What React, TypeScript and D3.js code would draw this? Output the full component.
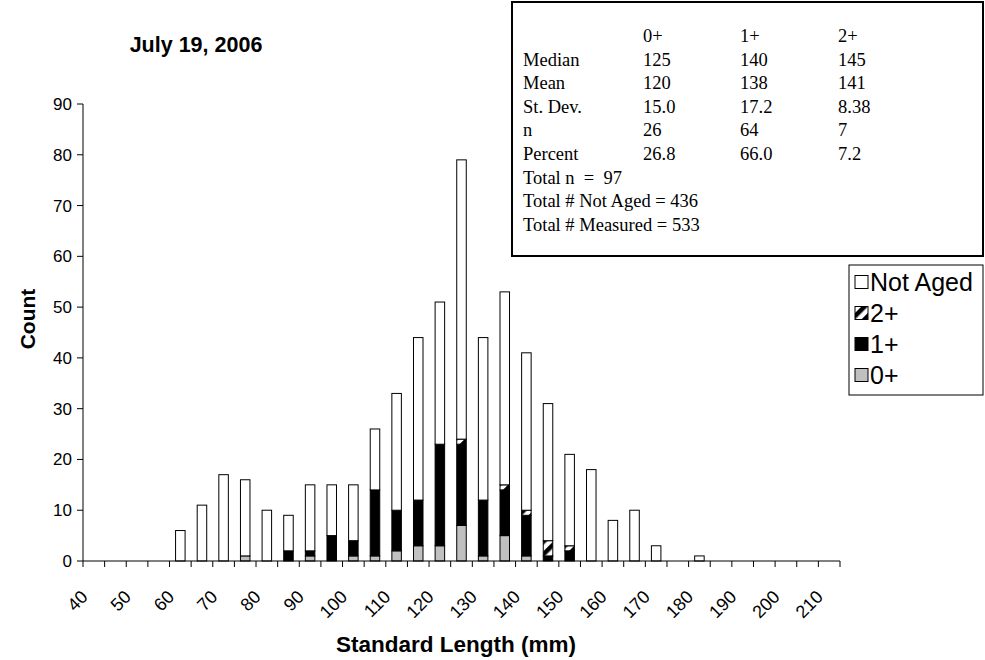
import React from "react";
import * as d3 from "d3";

// standard length bins (mm)
const lengths = [
  40, 45, 50, 55, 60, 65, 70, 75, 80, 85, 90, 95, 100, 105, 110, 115, 120, 125,
  130, 135, 140, 145, 150, 155, 160, 165, 170, 175, 180, 185, 190, 195, 200, 205, 210,
];
const tickLabels = [40, 50, 60, 70, 80, 90, 100, 110, 120, 130, 140, 150, 160, 170, 180, 190, 200, 210];
const yTicks = [0, 10, 20, 30, 40, 50, 60, 70, 80, 90];

// counts per bin, bottom to top of the stack
const age0 = [0, 0, 0, 0, 0, 0, 0, 1, 0, 0, 1, 0, 1, 1, 2, 3, 3, 7, 1, 5, 1, 0, 0, 0, 0, 0, 0, 0, 0, 0, 0, 0, 0, 0, 0];
const age1 = [0, 0, 0, 0, 0, 0, 0, 0, 0, 2, 1, 5, 3, 13, 8, 9, 20, 16, 11, 9, 8, 1, 2, 0, 0, 0, 0, 0, 0, 0, 0, 0, 0, 0, 0];
const age2 = [0, 0, 0, 0, 0, 0, 0, 0, 0, 0, 0, 0, 0, 0, 0, 0, 0, 1, 0, 1, 1, 3, 1, 0, 0, 0, 0, 0, 0, 0, 0, 0, 0, 0, 0];
const notAged = [0, 0, 0, 0, 6, 11, 17, 15, 10, 7, 13, 10, 11, 12, 23, 32, 28, 55, 32, 38, 31, 27, 18, 18, 8, 10, 3, 0, 1, 0, 0, 0, 0, 0, 0];

const seriesKeys = ["age0", "age1", "age2", "notAged"];
const seriesNames = ["0+", "1+", "2+", "Not Aged"];
const seriesFills = ["#c0c0c0", "#000000", "url(#stripe)", "#ffffff"];

// summary table
const statHeader = ["", "0+", "1+", "2+"];
const statLabels = ["Median", "Mean", "St. Dev.", "n", "Percent"];
const stat0 = ["125", "120", "15.0", "26", "26.8"];
const stat1 = ["140", "138", "17.2", "64", "66.0"];
const stat2 = ["145", "141", "8.38", "7", "7.2"];
const statFooter = ["Total n  =  97", "Total # Not Aged = 436", "Total # Measured = 533"];

const W = 985;
const H = 660;
const left = 83;
const right = 840;
const top = 104;
const bottom = 561;
const sans = "'Liberation Sans', Arial, sans-serif";
const serif = "'Liberation Serif', 'Times New Roman', serif";

export default function App() {
  const rows = lengths.map((len, i) => ({
    len,
    age0: age0[i],
    age1: age1[i],
    age2: age2[i],
    notAged: notAged[i],
  }));

  const x = d3.scaleBand<number>().domain(lengths).range([left, right]).padding(0);
  const y = d3.scaleLinear().domain([0, 90]).range([bottom, top]);
  const stacked = d3.stack<any>().keys(seriesKeys)(rows);
  const bw = x.bandwidth();
  const barW = bw * 0.44;

  const tableX = [523, 643, 740, 838];
  const rowY = (i: number) => 42 + i * 23.6;

  return (
    <svg width={W} height={H} style={{ position: "absolute", left: 0, top: 0, background: "#fff" }}>
      <defs>
        <pattern id="stripe" patternUnits="userSpaceOnUse" width={9} height={9} patternTransform="rotate(45)">
          <rect x={0} y={0} width={9} height={9} fill="#fff" />
          <rect x={0} y={0} width={4.5} height={9} fill="#000" />
        </pattern>
      </defs>

      <text x={196} y={52} textAnchor="middle" fontFamily={sans} fontWeight="bold" fontSize={21.5}>
        July 19, 2006
      </text>

      {/* bars */}
      {stacked.map((layer, si) =>
        layer.map((d, i) =>
          d[1] - d[0] > 0 ? (
            <rect
              key={`${si}-${i}`}
              x={(x(lengths[i]) as number) + (bw - barW) / 2}
              y={y(d[1])}
              width={barW}
              height={y(d[0]) - y(d[1])}
              fill={seriesFills[si]}
              stroke="#000"
              strokeWidth={1}
            />
          ) : null
        )
      )}

      {/* y axis */}
      <line x1={left} x2={left} y1={top} y2={bottom} stroke="#000" />
      {yTicks.map((t) => (
        <g key={t}>
          <line x1={left - 6} x2={left} y1={y(t)} y2={y(t)} stroke="#000" />
          <text x={left - 11} y={y(t)} dy="0.35em" textAnchor="end" fontFamily={sans} fontSize={17}>
            {t}
          </text>
        </g>
      ))}
      <text
        transform={`translate(35,319) rotate(-90)`}
        textAnchor="middle"
        fontFamily={sans}
        fontWeight="bold"
        fontSize={21}
      >
        Count
      </text>

      {/* x axis */}
      <line x1={left} x2={right} y1={bottom} y2={bottom} stroke="#000" />
      {lengths.map((len) => (
        <line
          key={len}
          x1={(x(len) as number) + bw}
          x2={(x(len) as number) + bw}
          y1={bottom}
          y2={bottom + 6}
          stroke="#000"
        />
      ))}
      <line x1={left} x2={left} y1={bottom} y2={bottom + 6} stroke="#000" />
      {tickLabels.map((t) => {
        const cx = (x(t) as number) + bw / 2 - 5;
        return (
          <text
            key={t}
            transform={`translate(${cx},${bottom + 37}) rotate(-45)`}
            textAnchor="end"
            fontFamily={sans}
            fontSize={18}
          >
            {t}
          </text>
        );
      })}
      <text x={456} y={652} textAnchor="middle" fontFamily={sans} fontWeight="bold" fontSize={22.5}>
        Standard Length (mm)
      </text>

      {/* summary box */}
      <rect x={512} y={2} width={471} height={254} fill="#fff" stroke="#000" strokeWidth={2} />
      {statHeader.map((h, j) => (
        <text key={`h${j}`} x={tableX[j]} y={rowY(0)} fontFamily={serif} fontSize={18.5}>
          {h}
        </text>
      ))}
      {statLabels.map((lab, i) => (
        <g key={lab}>
          <text x={tableX[0]} y={rowY(i + 1)} fontFamily={serif} fontSize={18.5}>{lab}</text>
          <text x={tableX[1]} y={rowY(i + 1)} fontFamily={serif} fontSize={18.5}>{stat0[i]}</text>
          <text x={tableX[2]} y={rowY(i + 1)} fontFamily={serif} fontSize={18.5}>{stat1[i]}</text>
          <text x={tableX[3]} y={rowY(i + 1)} fontFamily={serif} fontSize={18.5}>{stat2[i]}</text>
        </g>
      ))}
      {statFooter.map((s, i) => (
        <text key={s} x={tableX[0]} y={rowY(i + 6)} fontFamily={serif} fontSize={18.5} style={{ whiteSpace: "pre" }}>
          {s}
        </text>
      ))}

      {/* legend */}
      <rect x={849} y={265} width={134} height={130} fill="#fff" stroke="#000" strokeWidth={1} />
      {[3, 2, 1, 0].map((si, k) => (
        <g key={si} transform={`translate(855,${282 + k * 31})`}>
          <rect x={0} y={-6.5} width={13} height={13} fill={seriesFills[si]} stroke="#000" />
          <text x={15} y={0} dy="0.36em" fontFamily={sans} fontSize={25}>
            {seriesNames[si]}
          </text>
        </g>
      ))}
    </svg>
  );
}
